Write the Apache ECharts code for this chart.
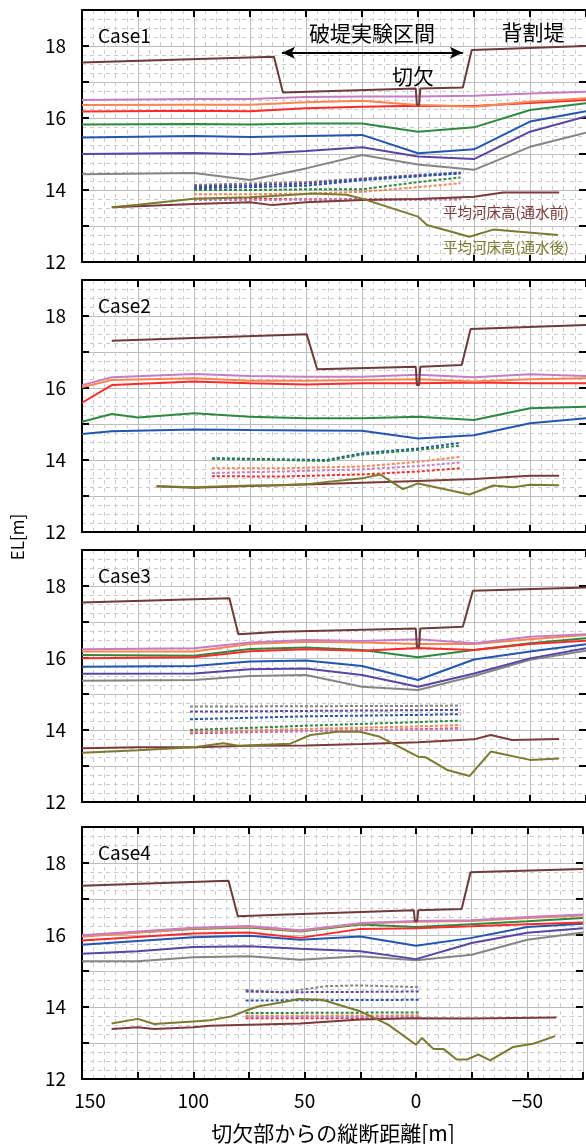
<!DOCTYPE html>
<html><head><meta charset="utf-8">
<script src="https://cdn.jsdelivr.net/npm/echarts@6/dist/echarts.min.js"></script>
<style>html,body{margin:0;padding:0;background:#fff}#c{width:586px;height:1144px}</style>
</head><body><div id="c"></div>
<script>
const caseNames = ['Case1', 'Case2', 'Case3', 'Case4'];
const xLabelValues = [150, 100, 50, 0, -50];
const yLabelValues = [12, 14, 16, 18];
const arrowSpan = [[60.7, 17.81], [-20, 17.81]];

// ---- Case1 ----
const levee1 = [[150,17.54],[64.3,17.70],[60.3,16.71],[1,16.82],[0.5,16.36],[-0.5,16.36],[-1,16.82],[-20,16.85],[-24,17.89],[-75,18.0]];
const pink1 = [[150,16.5],[100,16.53],[75,16.53],[50,16.58],[25,16.6],[0,16.6],[-25,16.62],[-50,16.68],[-75,16.73]];
const orange1 = [[150,16.36],[100,16.37],[75,16.37],[50,16.44],[25,16.48],[0,16.36],[-25,16.31],[-50,16.45],[-75,16.55]];
const red1 = [[150,16.18],[100,16.2],[75,16.19],[50,16.27],[25,16.31],[0,16.34],[-25,16.33],[-50,16.42],[-75,16.5]];
const green1 = [[150,15.82],[100,15.83],[75,15.82],[50,15.85],[25,15.85],[0,15.62],[-25,15.74],[-50,16.22],[-75,16.41]];
const blue1 = [[150,15.46],[100,15.5],[75,15.47],[50,15.5],[25,15.53],[0,15.02],[-25,15.13],[-50,15.9],[-75,16.19]];
const indigo1 = [[150,15.0],[100,15.03],[75,14.99],[50,15.08],[25,15.19],[0,14.93],[-25,14.86],[-50,15.62],[-75,16.04]];
const gray1 = [[150,14.44],[100,14.47],[75,14.28],[50,14.6],[25,14.97],[0,14.71],[-25,14.56],[-50,15.2],[-75,15.59]];
const bedBefore1 = [[136.7,13.52],[100,13.61],[75,13.66],[65,13.58],[50,13.66],[25,13.72],[0,13.75],[-25,13.81],[-38,13.93],[-63,13.93]];
const bedAfter1 = [[136.7,13.52],[125,13.59],[100,13.76],[75,13.8],[61,13.85],[47,13.9],[32,13.87],[25,13.76],[0,13.26],[-4,13.03],[-23,12.7],[-33.6,12.9],[-44,12.85],[-62.5,12.75]];
const dGray1 = [[100,14.14],[75,14.18],[50,14.22],[25,14.32],[0,14.42],[-19,14.49]];
const dIndigo1 = [[100,14.1],[75,14.13],[50,14.18],[25,14.3],[0,14.4],[-19,14.47]];
const dBlue1 = [[100,14.05],[75,14.08],[50,14.12],[25,14.27],[0,14.38],[-19,14.46]];
const dGreen1 = [[100,14.0],[75,14.0],[50,14.02],[25,14.02],[0,14.22],[-19,14.35]];
const dOrange1 = [[100,13.88],[75,13.88],[50,13.9],[25,13.95],[0,14.08],[-19,14.19]];
const dRed1 = [[100,13.76],[75,13.76],[50,13.74],[25,13.74],[0,13.74],[-19,13.74]];
const dPink1 = [[100,13.72],[75,13.72],[50,13.73],[25,13.73],[0,13.73],[-19,13.74]];

// ---- Case2 ----
const levee2 = [[136.7,17.31],[49.7,17.49],[45,16.52],[1,16.59],[0.5,16.08],[-0.5,16.08],[-1,16.59],[-19.5,16.64],[-23.5,17.64],[-75,17.75]];
const pink2 = [[150,16.08],[136.7,16.3],[100,16.39],[75,16.33],[50,16.31],[25,16.31],[0,16.37],[-25,16.3],[-50,16.38],[-75,16.33]];
const orange2 = [[150,16.02],[136.7,16.22],[100,16.27],[75,16.2],[50,16.2],[25,16.22],[0,16.24],[-25,16.18],[-50,16.24],[-75,16.27]];
const red2 = [[150,15.59],[136.7,16.08],[100,16.18],[75,16.13],[50,16.1],[25,16.13],[0,16.13],[-25,16.15],[-50,16.13],[-75,16.13]];
const green2 = [[150,15.06],[136.7,15.28],[125,15.18],[100,15.3],[75,15.2],[50,15.16],[25,15.16],[0,15.2],[-25,15.11],[-50,15.44],[-75,15.48]];
const blue2 = [[150,14.72],[136.7,14.8],[100,14.85],[75,14.83],[50,14.82],[25,14.81],[0,14.6],[-25,14.69],[-50,15.02],[-75,15.16]];
const bedBefore2 = [[116.7,13.27],[100,13.23],[75,13.28],[50,13.32],[25,13.37],[0,13.42],[-25,13.47],[-50,13.56],[-63,13.56]];
const bedAfter2 = [[116.7,13.27],[100,13.24],[75,13.29],[61.6,13.3],[49.7,13.33],[25,13.49],[17,13.6],[6.7,13.19],[0,13.35],[-23,13.04],[-33.6,13.29],[-42.5,13.24],[-50,13.31],[-63,13.3]];
const dBlue2 = [[92,14.05],[61.6,14.02],[41,14.0],[25,14.19],[0,14.32],[-19,14.48]];
const dGreen2 = [[92,14.03],[61.6,14.0],[41,13.97],[25,14.15],[0,14.28],[-19,14.4]];
const dOrange2 = [[92,13.77],[61.6,13.77],[25,13.82],[0,13.95],[-19,14.09]];
const dPink2 = [[92,13.64],[61.6,13.68],[25,13.74],[0,13.83],[-19,13.93]];
const dRed2 = [[92,13.55],[61.6,13.54],[25,13.6],[0,13.68],[-19,13.77]];

// ---- Case3 ----
const levee3 = [[150,17.54],[84.2,17.66],[80.2,16.66],[61.6,16.73],[1,16.82],[0.5,16.31],[-0.5,16.31],[-1,16.82],[-20,16.87],[-24.5,17.87],[-75,17.96]];
const pink3 = [[150,16.24],[100,16.27],[75,16.43],[50,16.5],[25,16.47],[0,16.52],[-25,16.41],[-50,16.59],[-75,16.66]];
const orange3 = [[150,16.18],[100,16.18],[75,16.39],[50,16.45],[25,16.43],[0,16.39],[-25,16.39],[-50,16.52],[-75,16.64]];
const green3 = [[150,16.08],[100,16.06],[75,16.25],[50,16.29],[25,16.22],[0,16.02],[-25,16.22],[-50,16.41],[-75,16.55]];
const red3 = [[150,15.99],[100,16.02],[75,16.19],[50,16.24],[25,16.2],[0,16.28],[-25,16.22],[-50,16.39],[-75,16.48]];
const blue3 = [[150,15.76],[100,15.78],[75,15.9],[50,15.93],[25,15.78],[0,15.39],[-25,15.96],[-50,16.18],[-75,16.38]];
const indigo3 = [[150,15.56],[100,15.57],[75,15.69],[50,15.71],[25,15.53],[0,15.2],[-25,15.57],[-50,15.99],[-75,16.27]];
const gray3 = [[150,15.37],[100,15.39],[75,15.5],[50,15.53],[25,15.2],[0,15.11],[-25,15.5],[-50,15.95],[-75,16.2]];
const bedBefore3 = [[150,13.49],[125,13.52],[100,13.52],[75,13.56],[50,13.57],[25,13.61],[0,13.66],[-25,13.74],[-32.5,13.86],[-42,13.72],[-63,13.75]];
const bedAfter3 = [[150,13.37],[125,13.44],[100,13.52],[87,13.63],[80,13.56],[57,13.62],[48,13.86],[36,13.95],[26,13.95],[17,13.81],[0,13.26],[-3.5,13.24],[-13,12.89],[-23,12.72],[-32.5,13.4],[-50,13.17],[-63,13.21]];
const dGray3 = [[101.8,14.65],[50,14.66],[0,14.67],[-19,14.68]];
const dIndigo3 = [[101.8,14.51],[50,14.53],[0,14.55],[-19,14.56]];
const dBlue3 = [[101.8,14.3],[75,14.34],[50,14.38],[0,14.42],[-19,14.44]];
const dGreen3 = [[101.8,14.0],[75,14.06],[50,14.12],[0,14.22],[-19,14.26]];
const dOrange3 = [[101.8,13.95],[75,13.99],[50,14.03],[0,14.1],[-19,14.14]];
const dRed3 = [[101.8,13.91],[75,13.94],[50,13.97],[0,14.02],[-19,14.05]];
const dPink3 = [[101.8,13.93],[75,13.95],[50,13.97],[0,14.01],[-19,14.03]];

// ---- Case4 ----
const levee4 = [[150,17.37],[84.2,17.51],[80,16.52],[61.6,16.56],[1,16.69],[0.5,16.38],[-0.5,16.38],[-1,16.69],[-20.5,16.72],[-24.5,17.74],[-75,17.83]];
const pink4 = [[150,15.99],[100,16.2],[75,16.25],[52,16.13],[25,16.33],[0,16.39],[-25,16.41],[-50,16.5],[-75,16.57]];
const orange4 = [[150,15.95],[100,16.18],[75,16.23],[52,16.11],[25,16.32],[0,16.37],[-25,16.39],[-50,16.47],[-75,16.54]];
const green4 = [[150,15.98],[100,16.17],[75,16.21],[52,16.1],[25,16.29],[0,16.22],[-25,16.3],[-50,16.38],[-75,16.47]];
const red4 = [[150,15.85],[100,16.04],[75,16.07],[52,15.92],[25,16.17],[0,16.19],[-25,16.24],[-50,16.3],[-75,16.35]];
const blue4 = [[150,15.73],[100,15.94],[75,15.98],[52,15.87],[25,15.96],[0,15.7],[-25,15.92],[-50,16.22],[-75,16.31]];
const indigo4 = [[150,15.48],[125,15.55],[100,15.67],[75,15.69],[52,15.62],[25,15.55],[0,15.33],[-25,15.78],[-50,16.06],[-75,16.19]];
const gray4 = [[150,15.27],[125,15.27],[100,15.38],[75,15.41],[52,15.31],[25,15.41],[0,15.3],[-25,15.45],[-50,15.87],[-75,16.07]];
const bedBefore4 = [[136.7,13.39],[125,13.44],[117.6,13.39],[100,13.44],[92.5,13.48],[75,13.51],[52,13.54],[25,13.65],[0,13.69],[-25,13.68],[-63,13.71]];
const bedAfter4 = [[136.7,13.54],[125,13.67],[117.6,13.53],[100,13.6],[92.5,13.63],[82.9,13.74],[75,13.93],[70.5,14.02],[57.5,14.16],[52.7,14.22],[42.3,14.2],[25,13.88],[12.5,13.51],[0,12.95],[-2.7,13.14],[-7.9,12.83],[-12.4,12.83],[-18.3,12.54],[-22.8,12.54],[-28,12.68],[-33.3,12.52],[-43.7,12.89],[-52.6,12.98],[-62.5,13.19]];
const dGray4 = [[76.5,14.47],[60,14.41],[40,14.58],[25,14.6],[-2,14.55]];
const dIndigo4 = [[76.5,14.43],[60,14.41],[25,14.42],[-2,14.43]];
const dBlue4 = [[76.5,14.18],[40,14.19],[-2,14.2]];
const dGreen4 = [[76.5,13.83],[40,13.84],[-2,13.85]];
const dOrange4 = [[76.5,13.76],[40,13.76],[-2,13.77]];
const dPink4 = [[76.5,13.72],[40,13.72],[-2,13.73]];
const dRed4 = [[76.5,13.69],[40,13.69],[-2,13.7]];

const panels = [
  {levee: levee1, pink: pink1, orange: orange1, red: red1, green: green1, blue: blue1, indigo: indigo1, gray: gray1,
   bedBefore: bedBefore1, bedAfter: bedAfter1,
   dGray: dGray1, dIndigo: dIndigo1, dBlue: dBlue1, dGreen: dGreen1, dOrange: dOrange1, dRed: dRed1, dPink: dPink1},
  {levee: levee2, pink: pink2, orange: orange2, red: red2, green: green2, blue: blue2,
   bedBefore: bedBefore2, bedAfter: bedAfter2,
   dBlue: dBlue2, dGreen: dGreen2, dOrange: dOrange2, dPink: dPink2, dRed: dRed2},
  {levee: levee3, pink: pink3, orange: orange3, red: red3, green: green3, blue: blue3, indigo: indigo3, gray: gray3,
   bedBefore: bedBefore3, bedAfter: bedAfter3,
   dGray: dGray3, dIndigo: dIndigo3, dBlue: dBlue3, dGreen: dGreen3, dOrange: dOrange3, dRed: dRed3, dPink: dPink3},
  {levee: levee4, pink: pink4, orange: orange4, red: red4, green: green4, blue: blue4, indigo: indigo4, gray: gray4,
   bedBefore: bedBefore4, bedAfter: bedAfter4,
   dGray: dGray4, dIndigo: dIndigo4, dBlue: dBlue4, dGreen: dGreen4, dOrange: dOrange4, dRed: dRed4, dPink: dPink4}
];

const colors = {
  levee: '#6e3a3c', pink: '#c47fc4', orange: '#ff8450', red: '#ff2a2a', green: '#2c8a40',
  blue: '#2256b2', indigo: '#5a45a6', gray: '#858585', bedBefore: '#7c3a3c', bedAfter: '#7b7a2e'
};
const dashedKeys = ['dGray', 'dIndigo', 'dBlue', 'dGreen', 'dOrange', 'dRed', 'dPink'];
const solidKeys = ['bedBefore', 'bedAfter', 'gray', 'indigo', 'blue', 'green', 'red', 'orange', 'pink', 'levee'];

const FONT = '"Noto Sans CJK JP", "Noto Sans", sans-serif';
const gridTops = [10, 280, 550, 827];
const gridH = 252;

const grids = [], xAxes = [], yAxes = [], series = [];
const fmtX = v => {
  if (!xLabelValues.includes(v)) return '';
  if (v === 150) return '{edge|150}';
  return v < 0 ? '\u2212' + (-v) : String(v);
};
const fmtY = v => yLabelValues.includes(v) ? String(v) : '';
const blackLine = {color: '#000', width: 2};

gridTops.forEach((t, i) => {
  grids.push({left: 82, right: 0, top: t, height: gridH, containLabel: false});
});
// bottom x axes (0-3)
gridTops.forEach((t, i) => {
  xAxes.push({type: 'value', gridIndex: i, position: 'bottom', inverse: true, min: -75, max: 150, interval: 25,
    axisLine: {show: true, onZero: false, lineStyle: blackLine},
    axisTick: {show: true, inside: true, length: 7, lineStyle: blackLine},
    axisLabel: {show: i === 3, formatter: fmtX, margin: 12, fontSize: 19, color: '#000', fontFamily: FONT,
      showMinLabel: true, showMaxLabel: true,
      rich: {edge: {fontSize: 19, color: '#000', fontFamily: FONT, padding: [0, 0, 0, 16]}}},
    splitLine: {show: true, lineStyle: {color: '#bdbdbd', width: 1}},
    minorTick: {show: false, splitNumber: 5},
    minorSplitLine: {show: true, lineStyle: {color: '#cdcdcd', width: 1, type: [4, 4]}}
  });
});
// top x axes (4-7)
gridTops.forEach((t, i) => {
  xAxes.push({type: 'value', gridIndex: i, position: 'top', inverse: true, min: -75, max: 150, interval: 25,
    axisLine: {show: true, onZero: false, lineStyle: blackLine},
    axisTick: {show: true, inside: true, length: 7, lineStyle: blackLine},
    axisLabel: {show: false}, splitLine: {show: false}
  });
});
// left y axes (0-3)
gridTops.forEach((t, i) => {
  yAxes.push({type: 'value', gridIndex: i, position: 'left', min: 12, max: 19, interval: 1,
    axisLine: {show: true, onZero: false, lineStyle: blackLine},
    axisTick: {show: true, inside: true, length: 7, lineStyle: blackLine},
    axisLabel: {formatter: fmtY, margin: 16, fontSize: 19, color: '#000', fontFamily: FONT},
    splitLine: {show: true, lineStyle: {color: '#bdbdbd', width: 1}},
    minorTick: {show: false, splitNumber: 4},
    minorSplitLine: {show: true, lineStyle: {color: '#cdcdcd', width: 1, type: [4, 4]}}
  });
});
// right y axes (4-7): ticks only
gridTops.forEach((t, i) => {
  yAxes.push({type: 'value', gridIndex: i, position: 'right', min: 12, max: 19, interval: 1,
    axisLine: {show: false, onZero: false},
    axisTick: {show: true, inside: true, length: 7, lineStyle: blackLine},
    axisLabel: {show: false}, splitLine: {show: false}
  });
});

panels.forEach((p, i) => {
  dashedKeys.forEach(k => {
    if (!p[k]) return;
    const c = colors[k.charAt(1).toLowerCase() + k.slice(2)];
    series.push({type: 'line', xAxisIndex: i, yAxisIndex: i, data: p[k], showSymbol: false, symbol: 'none',
      lineStyle: {color: c, width: 2, type: [3, 2]}, silent: true, animation: false, z: 2});
  });
  solidKeys.forEach(k => {
    if (!p[k]) return;
    const s = {type: 'line', xAxisIndex: i, yAxisIndex: i, data: p[k], showSymbol: false, symbol: 'none',
      lineStyle: {color: colors[k], width: 2}, silent: true, animation: false, z: 3};
    if (i === 0 && k === 'levee') {
      s.markLine = {silent: true, animation: false, symbol: ['arrow', 'arrow'], symbolSize: [9, 13],
        label: {show: false}, lineStyle: {color: '#000', width: 2, type: 'solid'},
        data: [[{coord: arrowSpan[0]}, {coord: arrowSpan[1]}]]};
    }
    series.push(s);
  });
});

const txt = (x, y, text, size, color, extra) => Object.assign({type: 'text', z: 100, style: Object.assign({x, y, text,
  font: size + 'px ' + FONT, fill: color || '#000', align: 'center', verticalAlign: 'middle'}, extra || {})});

const graphic = [];
caseNames.forEach((n, i) => graphic.push(txt(98, gridTops[i] + 26, n, 19, '#000', {align: 'left'})));
graphic.push(txt(372, 33, '破堤実験区間', 21, '#000'));
graphic.push(txt(413, 76, '切欠', 21, '#000'));
graphic.push(txt(533, 32, '背割堤', 21, '#000'));
graphic.push(txt(506, 212, '平均河床高(通水前)', 14.5, colors.bedBefore));
graphic.push(txt(506, 247, '平均河床高(通水後)', 14.5, colors.bedAfter));
graphic.push(txt(333, 1133, '切欠部からの縦断距離[m]', 21, '#000'));
graphic.push({type: 'text', z: 100, x: 18, y: 537, rotation: Math.PI / 2,
  style: {x: 0, y: 0, text: 'EL[m]', font: '17px ' + FONT, fill: '#000', align: 'center', verticalAlign: 'middle'}});

const chart = echarts.init(document.getElementById('c'), null, {renderer: 'canvas'});
chart.setOption({animation: false, backgroundColor: '#fff', grid: grids, xAxis: xAxes, yAxis: yAxes, series, graphic});
</script></body></html>
